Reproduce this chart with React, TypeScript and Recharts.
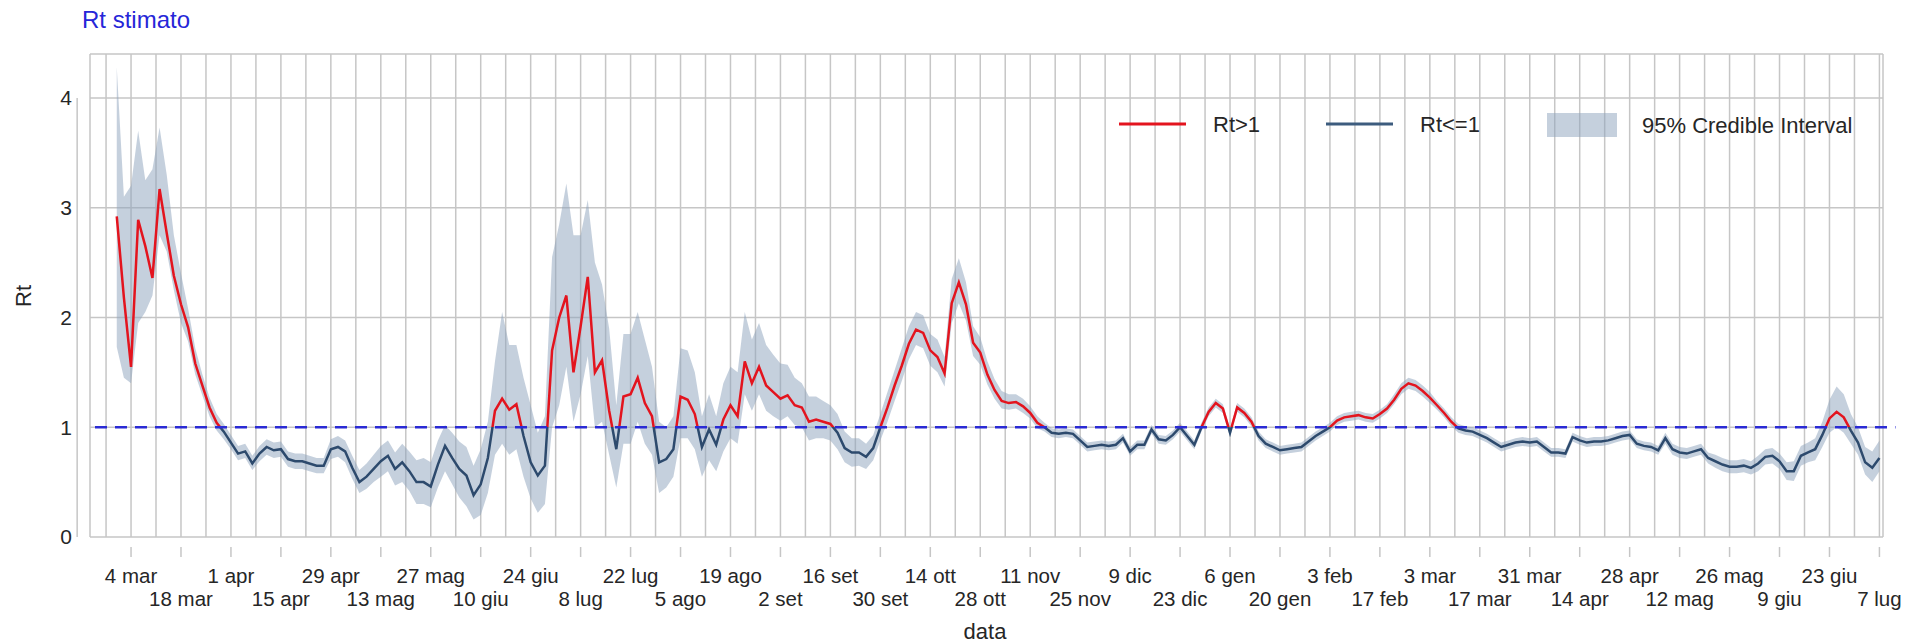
import React from "react";
import {
  ComposedChart,
  Line,
  Area,
  XAxis,
  YAxis,
  CartesianGrid,
  ReferenceLine,
} from "recharts";

const FONT = '"Liberation Sans", Arial, Helvetica, sans-serif';

// days counted from 4 mar 2020; one estimate every 2 days, first one on 29 feb 2020
const FIRST_DAY = -4;
const STEP_DAYS = 2;

const rt = [
  2.92, 2.18, 1.55, 2.89, 2.65, 2.36, 3.17, 2.77, 2.38, 2.12,
  1.91, 1.58, 1.38, 1.18, 1.04, 0.96, 0.86, 0.76, 0.78, 0.67,
  0.76, 0.82, 0.79, 0.8, 0.71, 0.69, 0.69, 0.67, 0.65, 0.65,
  0.8, 0.82, 0.78, 0.63, 0.5, 0.55, 0.62, 0.69, 0.74, 0.62,
  0.68, 0.6, 0.5, 0.5, 0.46, 0.66, 0.83, 0.72, 0.62, 0.56,
  0.38, 0.48, 0.72, 1.15, 1.26, 1.16, 1.21, 0.92, 0.68, 0.56,
  0.65, 1.7, 2.0, 2.2, 1.5, 1.92, 2.37, 1.5, 1.61, 1.15,
  0.8, 1.28, 1.3, 1.45, 1.22, 1.1, 0.68, 0.71, 0.8, 1.28,
  1.25, 1.12, 0.82, 0.98, 0.84, 1.07, 1.2, 1.1, 1.6, 1.4,
  1.55, 1.38, 1.32, 1.26, 1.29, 1.2, 1.18, 1.05, 1.07, 1.05,
  1.03, 0.95, 0.81, 0.77, 0.77, 0.73, 0.81, 1.0, 1.18, 1.38,
  1.56, 1.76, 1.89, 1.86, 1.7, 1.64, 1.49, 2.13, 2.32, 2.12,
  1.77, 1.68, 1.48, 1.34, 1.24, 1.22, 1.23, 1.19, 1.13, 1.04,
  1.0, 0.95, 0.94, 0.95, 0.94, 0.88, 0.82, 0.83, 0.84, 0.83,
  0.84, 0.9, 0.78, 0.84, 0.84, 0.98, 0.89, 0.88, 0.93, 1.0,
  0.92, 0.84, 1.0, 1.14, 1.22, 1.17, 0.95, 1.18, 1.13, 1.05,
  0.92, 0.85, 0.82, 0.79, 0.8, 0.81, 0.82, 0.87, 0.92, 0.96,
  1.0, 1.06, 1.09, 1.1, 1.11, 1.09, 1.08, 1.12, 1.17, 1.25,
  1.35, 1.4, 1.38, 1.33, 1.27, 1.2, 1.13, 1.05, 0.99, 0.97,
  0.96, 0.93, 0.9, 0.86, 0.82, 0.84, 0.86, 0.87, 0.86, 0.87,
  0.82, 0.77, 0.77, 0.76, 0.91, 0.88, 0.86, 0.87, 0.87, 0.88,
  0.9, 0.92, 0.93, 0.85, 0.83, 0.82, 0.79, 0.9, 0.8, 0.77,
  0.76, 0.78, 0.8, 0.72, 0.69, 0.66, 0.64, 0.64, 0.65, 0.63,
  0.67, 0.73, 0.74, 0.69, 0.6, 0.6, 0.74, 0.77, 0.8, 0.93,
  1.08, 1.14, 1.09, 0.97, 0.86, 0.68, 0.63, 0.72,
];

const ciLow = [
  1.73, 1.45, 1.4, 1.95, 2.05, 2.2, 2.75, 2.6, 2.25, 1.95,
  1.78, 1.48, 1.29, 1.1, 0.97, 0.89, 0.8, 0.7, 0.72, 0.61,
  0.69, 0.75, 0.72, 0.73, 0.64, 0.62, 0.62, 0.6, 0.58, 0.58,
  0.71, 0.73, 0.68, 0.53, 0.4, 0.44, 0.5, 0.55, 0.6, 0.47,
  0.5, 0.42, 0.3, 0.3, 0.27, 0.45, 0.6, 0.48, 0.36, 0.28,
  0.16, 0.2, 0.4, 0.75, 0.85, 0.75, 0.8, 0.55, 0.35, 0.22,
  0.3, 1.0, 1.2, 1.55, 1.05, 1.3, 1.65, 1.0, 1.05, 0.75,
  0.45, 0.85, 0.85, 1.05, 0.85, 0.75, 0.4, 0.45, 0.55, 0.9,
  0.9, 0.8, 0.55, 0.7, 0.6, 0.78, 0.9, 0.85, 1.3, 1.15,
  1.3, 1.15, 1.1, 1.06, 1.1, 1.02, 1.0, 0.88, 0.9, 0.9,
  0.88, 0.8, 0.68, 0.64, 0.65, 0.62, 0.7, 0.88, 1.05, 1.24,
  1.42, 1.62, 1.75, 1.72, 1.56, 1.5, 1.37, 1.95, 2.13, 1.97,
  1.65, 1.57, 1.39, 1.26, 1.17, 1.16, 1.17, 1.13, 1.08, 0.99,
  0.96, 0.91, 0.9, 0.91, 0.9, 0.84, 0.78, 0.79, 0.8, 0.79,
  0.8, 0.86, 0.74, 0.8, 0.8, 0.94, 0.85, 0.84, 0.89, 0.96,
  0.88, 0.8, 0.96, 1.1, 1.18, 1.13, 0.91, 1.14, 1.09, 1.01,
  0.88, 0.81, 0.78, 0.75, 0.76, 0.77, 0.78, 0.83, 0.88, 0.92,
  0.96, 1.02, 1.05, 1.06, 1.07, 1.05, 1.04, 1.08, 1.13, 1.21,
  1.3, 1.35, 1.33, 1.28, 1.22, 1.16, 1.09, 1.01, 0.95, 0.93,
  0.92, 0.89, 0.86, 0.82, 0.78, 0.8, 0.82, 0.83, 0.82, 0.83,
  0.78, 0.73, 0.73, 0.72, 0.87, 0.84, 0.82, 0.83, 0.83, 0.84,
  0.86, 0.88, 0.89, 0.81, 0.79, 0.78, 0.75, 0.85, 0.75, 0.72,
  0.71, 0.73, 0.75, 0.67, 0.63, 0.6, 0.58, 0.58, 0.59, 0.57,
  0.6, 0.66, 0.67, 0.62, 0.52, 0.51, 0.65, 0.68, 0.7, 0.82,
  0.95, 1.0, 0.95, 0.85, 0.75, 0.57, 0.5, 0.6,
];

const ciHigh = [
  4.28, 3.1, 3.2, 3.7, 3.25, 3.35, 3.73, 3.3, 2.75, 2.4,
  2.08, 1.72, 1.48, 1.27, 1.12, 1.03, 0.93, 0.83, 0.85, 0.74,
  0.83, 0.89, 0.86, 0.87, 0.78, 0.76, 0.76, 0.74, 0.72, 0.72,
  0.89, 0.92, 0.88, 0.74, 0.61, 0.67, 0.75, 0.83, 0.88, 0.77,
  0.85, 0.78, 0.7, 0.72, 0.68, 0.88, 1.02, 0.95, 0.87, 0.82,
  0.65, 0.8, 1.05, 1.6, 2.05, 1.75, 1.75, 1.45, 1.2, 0.95,
  1.1, 2.55, 2.85, 3.22, 2.75, 2.75, 3.07, 2.5, 2.3, 1.9,
  1.2, 1.85, 1.85, 2.05, 1.8, 1.55, 1.05, 1.0, 1.1, 1.72,
  1.7, 1.5, 1.1, 1.3, 1.1, 1.4, 1.55, 1.5, 2.05, 1.8,
  1.95, 1.75, 1.66, 1.58, 1.57, 1.45, 1.4, 1.28, 1.28, 1.24,
  1.2, 1.12, 0.96, 0.9, 0.9, 0.85, 0.93, 1.12, 1.32, 1.52,
  1.72, 1.92, 2.05, 2.02, 1.85, 1.8, 1.64, 2.35, 2.54, 2.32,
  1.92, 1.82, 1.6, 1.44, 1.33, 1.3, 1.3, 1.26, 1.19, 1.1,
  1.04, 0.99, 0.98, 0.99, 0.98, 0.92, 0.86, 0.87, 0.88, 0.87,
  0.88, 0.94, 0.82, 0.88, 0.88, 1.02, 0.93, 0.92, 0.97, 1.04,
  0.96, 0.88, 1.04, 1.18, 1.26, 1.21, 0.99, 1.22, 1.17, 1.09,
  0.96, 0.89, 0.86, 0.83, 0.84, 0.85, 0.86, 0.91, 0.96, 1.0,
  1.04, 1.1, 1.13, 1.14, 1.15, 1.13, 1.12, 1.16, 1.21, 1.3,
  1.4, 1.45, 1.43, 1.38, 1.32, 1.24, 1.17, 1.09, 1.03, 1.01,
  1.0, 0.97, 0.94, 0.9, 0.86, 0.88, 0.9, 0.91, 0.9, 0.91,
  0.86, 0.81, 0.81, 0.8, 0.95, 0.92, 0.9, 0.91, 0.91, 0.92,
  0.94, 0.96, 0.97, 0.89, 0.87, 0.86, 0.83, 0.95, 0.85, 0.82,
  0.81, 0.83, 0.85, 0.77, 0.75, 0.72, 0.7, 0.7, 0.71, 0.69,
  0.74, 0.8, 0.81, 0.76, 0.68, 0.69, 0.83, 0.86, 0.9, 1.05,
  1.25, 1.37, 1.3, 1.12, 1.0, 0.82, 0.78, 0.88,
];

// one label every 14 days from 4 mar 2020, drawn on two alternating rows
const tickLabels = [
  "4 mar", "18 mar", "1 apr", "15 apr", "29 apr", "13 mag", "27 mag", "10 giu",
  "24 giu", "8 lug", "22 lug", "5 ago", "19 ago", "2 set", "16 set", "30 set",
  "14 ott", "28 ott", "11 nov", "25 nov", "9 dic", "23 dic", "6 gen", "20 gen",
  "3 feb", "17 feb", "3 mar", "17 mar", "31 mar", "14 apr", "28 apr", "12 mag",
  "26 mag", "9 giu", "23 giu", "7 lug",
];

const yTicks = [0, 1, 2, 3, 4];

const RED = "#e3141e";
const BLUE = "#2d4a6d";
const BAND = "#8ca2bc";
const DASH_BLUE = "#2b2bd4";
const GRID = "#c6c6c6";
const TEXT = "#262626";

const data = rt.map((v, i) => ({
  day: FIRST_DAY + i * STEP_DAYS,
  rt: v,
  ci: [ciLow[i], ciHigh[i]],
}));

const maxRt = Math.max(...rt);
const minRt = Math.min(...rt);
const splitOffset = (maxRt - 1) / (maxRt - minRt);

const weekTicks: number[] = [];
for (let d = -7; d <= 14 * (tickLabels.length - 1); d += 7) weekTicks.push(d);

function DateTick(props: any) {
  const { x, y, payload } = props;
  const v = payload.value;
  if (v < 0 || v % 14 !== 0) return <g />;
  const idx = v / 14;
  const lower = idx % 2 === 1;
  return (
    <g>
      <line x1={x} x2={x} y1={y + 10} y2={y + 20} stroke={GRID} strokeWidth={1.5} />
      <text
        x={x}
        y={y + (lower ? 68.5 : 45.5)}
        textAnchor="middle"
        fontSize={20.5}
        fontFamily={FONT}
        fill={TEXT}
      >
        {tickLabels[idx]}
      </text>
    </g>
  );
}

function Overlay() {
  return (
    <svg
      width={1921}
      height={643}
      style={{ position: "absolute", left: 0, top: 0, pointerEvents: "none" }}
      fontFamily={FONT}
    >
      <text x={82} y={28} fontSize={24} fill="#2626d8">
        Rt stimato
      </text>
      <text
        x={23}
        y={296}
        transform="rotate(-90 23 296)"
        textAnchor="middle"
        dominantBaseline="central"
        fontSize={22}
        fill={TEXT}
      >
        Rt
      </text>
      <text x={985} y={639} textAnchor="middle" fontSize={22} fill={TEXT}>
        data
      </text>
      <line x1={1119} x2={1186} y1={124} y2={124} stroke={RED} strokeWidth={3} />
      <text x={1213} y={132} fontSize={22} fill={TEXT}>
        Rt&gt;1
      </text>
      <line x1={1326} x2={1393} y1={124} y2={124} stroke="#3d5c7e" strokeWidth={3} />
      <text x={1420} y={132} fontSize={22} fill={TEXT}>
        Rt&lt;=1
      </text>
      <rect x={1547} y={113} width={70} height={24} fill={BAND} fillOpacity={0.5} />
      <text x={1642} y={133} fontSize={22} fill={TEXT}>
        95% Credible Interval
      </text>
    </svg>
  );
}

export default function App() {
  return (
    <div
      style={{
        position: "absolute",
        left: 0,
        top: 0,
        width: 1921,
        height: 643,
        background: "#fff",
        fontFamily: FONT,
      }}
    >
      <ComposedChart
        width={1921}
        height={643}
        data={data}
        margin={{ top: 54, right: 38, bottom: 6, left: 30 }}
      >
        <defs>
          <linearGradient id="rtSplit" x1="0" y1="0" x2="0" y2="1">
            <stop offset={splitOffset} stopColor={RED} />
            <stop offset={splitOffset} stopColor={BLUE} />
          </linearGradient>
        </defs>
        <CartesianGrid stroke={GRID} strokeWidth={1.5} />
        <XAxis
          dataKey="day"
          type="number"
          domain={[-11.5, 491]}
          ticks={weekTicks}
          interval={0}
          tick={<DateTick />}
          tickLine={false}
          axisLine={false}
          tickSize={0}
          tickMargin={0}
          height={100}
          allowDataOverflow
        />
        <YAxis
          type="number"
          domain={[0, 4.4]}
          ticks={yTicks}
          interval={0}
          width={60}
          tickLine={false}
          axisLine={false}
          tickSize={0}
          tickMargin={18}
          tick={{ fontSize: 21, fill: TEXT, fontFamily: FONT }}
          allowDataOverflow
        />
        <ReferenceLine
          segment={[
            { x: -15.1, y: 0 },
            { x: -15.1, y: 4 },
          ]}
          stroke={GRID}
          strokeWidth={1.5}
          ifOverflow="visible"
        />
        <Area
          dataKey="ci"
          type="linear"
          stroke="none"
          fill={BAND}
          fillOpacity={0.5}
          dot={false}
          activeDot={false}
          isAnimationActive={false}
        />
        <Line
          dataKey="rt"
          type="linear"
          stroke="url(#rtSplit)"
          strokeWidth={2.5}
          dot={false}
          activeDot={false}
          isAnimationActive={false}
        />
        <ReferenceLine
          segment={[
            { x: -10.1, y: 1 },
            { x: 494.5, y: 1 },
          ]}
          stroke={DASH_BLUE}
          strokeWidth={2.5}
          strokeDasharray="12 8"
          ifOverflow="visible"
        />
      </ComposedChart>
      <Overlay />
    </div>
  );
}
